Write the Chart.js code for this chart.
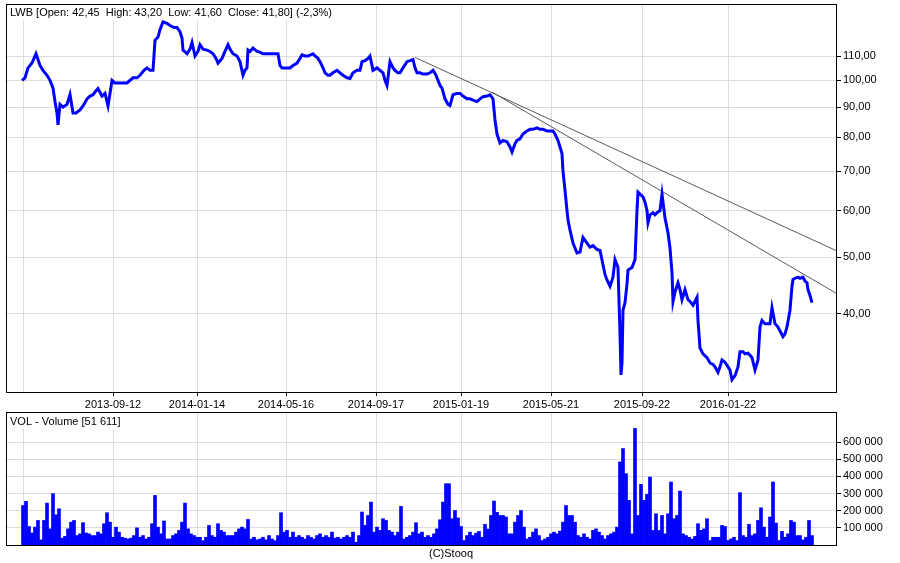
<!DOCTYPE html>
<html>
<head>
<meta charset="utf-8">
<title>LWB</title>
<script src="https://cdn.jsdelivr.net/npm/chart.js@4.4.1/dist/chart.umd.min.js"></script>
<style>
  html, body { margin: 0; padding: 0; background: #fff; }
  #wrap { position: relative; width: 900px; height: 563px; overflow: hidden; }
  #priceChart { position: absolute; left: 0; top: 0; }
  #volChart { position: absolute; left: 0; top: 400px; }
</style>
</head>
<body>
<div id="wrap">
  <canvas id="priceChart" width="900" height="412"></canvas>
  <canvas id="volChart" width="900" height="163"></canvas>
</div>
<script>
// x is a trading-day counter (day 0 = first session shown)
const tickDays = [1, 91, 175, 264, 354, 439, 529, 620, 706];
const tickLabels = ["", "2013-09-12", "2014-01-14", "2014-05-16", "2014-09-17", "2015-01-19", "2015-05-21", "2015-09-22", "2016-01-22"];
const priceTicks = [40, 50, 60, 70, 80, 90, 100, 110];
const volumeTicks = [100000, 200000, 300000, 400000, 500000, 600000];

// closing prices
const priceDays = [0, 3, 6, 10, 14, 18, 21, 25, 28, 31, 33, 35, 36, 38, 41, 45, 48, 51, 54, 58,
  62, 65, 68, 71, 74, 76, 80, 83, 85, 86, 88, 90, 93, 95, 100, 105, 111, 115, 118, 122,
  125, 128, 131, 133, 136, 138, 141, 145, 148, 152, 155, 158, 160, 161, 165, 168, 170, 173, 176, 178,
  181, 185, 188, 191, 194, 196, 200, 203, 206, 208, 211, 215, 218, 221, 223, 225, 226, 228, 231, 235,
  238, 241, 245, 248, 251, 254, 256, 258, 260, 263, 265, 268, 271, 275, 278, 280, 283, 286, 291, 293,
  296, 298, 301, 303, 306, 308, 311, 315, 318, 321, 325, 328, 331, 335, 338, 340, 343, 346, 348, 351,
  355, 358, 361, 363, 365, 368, 371, 373, 376, 378, 381, 385, 388, 391, 393, 395, 398, 401, 405, 408,
  411, 414, 416, 418, 420, 423, 426, 428, 431, 435, 438, 441, 445, 448, 451, 455, 458, 461, 465, 468,
  471, 473, 475, 478, 481, 485, 488, 490, 493, 495, 498, 501, 505, 508, 511, 515, 518, 521, 525, 528,
  531, 533, 536, 538, 540, 541, 543, 545, 546, 548, 551, 555, 558, 561, 565, 568, 571, 575, 578, 581,
  583, 585, 588, 591, 593, 596, 598, 599, 600, 601, 603, 605, 606, 610, 613, 615, 616, 618, 621, 623,
  625, 626, 628, 631, 633, 635, 638, 640, 643, 646, 648, 650, 651, 653, 656, 658, 660, 663, 666, 668,
  671, 675, 676, 678, 681, 685, 688, 691, 693, 696, 698, 700, 703, 706, 708, 710, 713, 716, 718, 721,
  723, 726, 728, 730, 733, 736, 738, 740, 743, 746, 748, 750, 753, 756, 758, 761, 763, 765, 768, 770,
  771, 773, 776, 778, 781, 783, 785, 786, 788, 790];
const priceClose = [100, 101, 105, 107, 111, 106, 104, 102, 100, 97, 92, 88, 84, 91, 90, 91, 94.6, 88, 88, 89,
  91, 93, 94, 94.5, 96, 96.8, 94, 95, 92, 90.5, 95, 100, 99, 99, 99, 99, 101, 101, 102, 104,
  105, 104, 104, 117, 118.5, 122, 125.7, 125, 124, 123, 123, 121, 118, 112.6, 111, 113, 116, 110, 112, 115,
  113, 112.6, 112, 111, 109, 107, 109, 112, 115, 113, 111, 110, 107.6, 102, 104, 105, 112.6, 112, 113.5, 112,
  111.7, 111, 111, 111, 111, 111, 111, 106, 105, 105, 105, 105, 106, 107, 109, 110.5, 110, 110, 111, 110,
  109, 107.6, 105, 103, 102, 102, 103, 104, 103, 102, 101, 100.7, 103, 104, 104, 107.6, 108, 109, 110, 104,
  105, 104, 103, 100, 98, 107.6, 105, 104, 103, 103, 105, 107.6, 108, 108.5, 105, 103, 103, 102.5, 102.5, 103,
  104, 102, 100, 98, 97, 93, 91, 90.6, 94.5, 95, 95, 94, 93, 93, 92.5, 92, 93, 93.8, 94, 94.5,
  93, 85.6, 81, 78.2, 79, 78.6, 77, 75.5, 78, 79, 79.5, 81, 82, 82.5, 82.5, 83, 82.5, 82.5, 82, 82,
  82, 81, 79, 77, 75, 70, 65, 60, 57.8, 55.6, 52.8, 50.8, 51, 54, 52.8, 52, 52.3, 51.5, 51.3, 48.5,
  46.7, 45.7, 44.6, 46.2, 49.5, 48, 37, 31.5, 33, 40.6, 41.8, 45, 47.5, 48, 49.5, 60, 64.5, 64, 63.3, 62,
  60, 57.2, 59, 59.5, 59, 59.5, 60, 64, 58.3, 55, 51.8, 47, 42, 43.6, 45.2, 44, 42.3, 44, 42.3, 42,
  41.4, 42.7, 39, 35, 34.2, 33.7, 33, 32.8, 32.5, 31.8, 32.5, 33.4, 33.1, 32.5, 32.1, 30.9, 31.4, 32.5, 34.5, 34.5,
  34.2, 34.3, 34, 33.7, 32.1, 33.4, 38, 39, 38.5, 38.5, 38.5, 41, 38.5, 38, 37.4, 36.6, 37, 38, 40.6, 44.6,
  45.8, 46, 46.2, 46, 46.2, 45.5, 45.2, 44, 43, 41.8];

// two drawn trend lines: start and end (day, price)
const trendUpper = [[393, 109.4], [814, 51.3]];
const trendLower = [[470, 95.5], [814, 43.4]];

// volume in thousands, one value per 3 sessions starting at day 0
const volumeK = [230, 254, 108, 70, 104, 143, 30, 143, 244, 94, 299, 176, 211, 40, 50, 94, 133, 143, 55, 65,
  130, 70, 65, 55, 55, 75, 65, 124, 188, 133, 45, 104, 75, 45, 40, 35, 40, 55, 100, 45,
  55, 35, 45, 124, 289, 104, 65, 140, 35, 35, 55, 65, 85, 133, 244, 94, 65, 55, 45, 45,
  26, 45, 114, 55, 45, 124, 85, 75, 55, 55, 55, 75, 94, 104, 94, 149, 35, 45, 30, 35,
  45, 30, 55, 35, 25, 55, 188, 75, 85, 45, 75, 45, 55, 45, 35, 55, 45, 35, 55, 65,
  45, 55, 45, 75, 40, 45, 35, 45, 55, 45, 75, 16, 55, 192, 114, 172, 250, 75, 104, 85,
  153, 143, 85, 75, 55, 75, 225, 35, 45, 55, 75, 130, 65, 75, 45, 55, 45, 65, 94, 147,
  250, 357, 357, 153, 201, 158, 108, 26, 55, 75, 55, 69, 79, 45, 120, 93, 172, 256, 190, 172,
  172, 163, 65, 65, 133, 172, 201, 104, 35, 45, 75, 94, 55, 26, 35, 45, 65, 75, 65, 81,
  133, 230, 172, 172, 133, 55, 45, 65, 45, 35, 85, 94, 75, 55, 35, 55, 65, 75, 104, 484,
  562, 416, 260, 65, 679, 172, 353, 260, 295, 396, 85, 182, 85, 172, 65, 182, 367, 153, 172, 314,
  65, 55, 45, 35, 50, 124, 85, 94, 153, 26, 45, 45, 45, 114, 108, 26, 35, 45, 26, 305,
  55, 45, 120, 55, 65, 143, 217, 104, 45, 163, 367, 128, 26, 79, 45, 65, 143, 133, 55, 55,
  30, 45, 143, 55];

const FONT = "11px 'Liberation Sans', Arial, sans-serif";
Chart.defaults.font.family = "'Liberation Sans', Arial, sans-serif";
Chart.defaults.font.size = 11;
Chart.defaults.color = "#000";

const gridColor = "#dcdcdc";

function fmtPrice(v) {
  return Number(v).toFixed(2).replace(".", ",");
}
function fmtVolume(v) {
  return String(v).replace(/\B(?=(\d{3})+(?!\d))/g, " ");
}

// frame round the plot area plus the caption in its top-left corner
const framePlugin = {
  id: "frame",
  beforeDatasetsDraw(chart, args, opts) {
    const { ctx, chartArea: a } = chart;
    if (!opts.text) return;
    ctx.save();
    ctx.font = FONT;
    const w = ctx.measureText(opts.text).width;
    ctx.fillStyle = "#fff";
    ctx.fillRect(a.left + 1, a.top + 1, w + 8, opts.boxHeight);
    ctx.restore();
  },
  afterDraw(chart, args, opts) {
    const { ctx, chartArea: a } = chart;
    ctx.save();
    if (opts.text) {
      ctx.font = FONT;
      ctx.fillStyle = "#000";
      ctx.textBaseline = "middle";
      ctx.fillText(opts.text, a.left + 4, a.top + opts.textY);
    }
    if (opts.footer) {
      ctx.font = FONT;
      ctx.fillStyle = "#000";
      ctx.textAlign = "center";
      ctx.textBaseline = "middle";
      ctx.fillText(opts.footer, 451, a.bottom + 9);
    }
    ctx.strokeStyle = "#000";
    ctx.lineWidth = 1;
    ctx.strokeRect(a.left + 0.5, a.top + 0.5, a.right - a.left, a.bottom - a.top);
    ctx.restore();
  },
};

function dayAxis(showLabels) {
  return {
    type: "linear",
    min: -16,
    max: 814,
    offset: false,
    afterBuildTicks: (scale) => {
      scale.ticks = tickDays.map((d) => ({ value: d }));
    },
    afterFit: (scale) => {
      scale.height = showLabels ? 20 : 0;
      scale.paddingLeft = 0;
      scale.paddingRight = 0;
    },
    ticks: {
      display: showLabels,
      autoSkip: false,
      maxRotation: 0,
      padding: 2,
      callback: (v, i) => tickLabels[i],
    },
    grid: {
      offset: false,
      color: gridColor,
      tickColor: (c) => (c.index === 0 ? "rgba(0,0,0,0)" : "#000"),
      tickLength: 4,
      drawTicks: showLabels,
    },
    border: { display: false },
  };
}

function sideAxis(extra) {
  return Object.assign({
    position: "right",
    afterFit: (scale) => {
      scale.width = 64;
      scale.paddingTop = 0;
      scale.paddingBottom = 0;
    },
    grid: { color: gridColor, tickColor: "#000", tickLength: 5 },
    border: { display: false },
  }, extra);
}

new Chart(document.getElementById("priceChart"), {
  type: "line",
  data: {
    datasets: [
      {
        data: priceDays.map((d, i) => ({ x: d, y: priceClose[i] })),
        borderColor: "#0000ff",
        borderWidth: 3,
        pointRadius: 0,
        tension: 0,
      },
      {
        data: trendUpper.map((p) => ({ x: p[0], y: p[1] })),
        borderColor: "#5a5a5a",
        borderWidth: 1,
        pointRadius: 0,
      },
      {
        data: trendLower.map((p) => ({ x: p[0], y: p[1] })),
        borderColor: "#5a5a5a",
        borderWidth: 1,
        pointRadius: 0,
      },
    ],
  },
  options: {
    responsive: false,
    animation: false,
    layout: { padding: { left: 6, top: 4, right: 0, bottom: 0 } },
    scales: {
      x: dayAxis(true),
      y: sideAxis({
        type: "logarithmic",
        min: 29.45,
        max: 134.9,
        afterBuildTicks: (scale) => {
          scale.ticks = priceTicks.map((v) => ({ value: v }));
        },
        ticks: { padding: 2, callback: (v) => fmtPrice(v) },
      }),
    },
    plugins: {
      legend: { display: false },
      tooltip: { enabled: false },
      frame: {
        text: "LWB [Open: 42,45  High: 43,20  Low: 41,60  Close: 41,80] (-2,3%)",
        textY: 9,
        boxHeight: 15,
      },
    },
  },
  plugins: [framePlugin],
});

new Chart(document.getElementById("volChart"), {
  type: "bar",
  data: {
    datasets: [
      {
        data: volumeK.map((v, i) => ({ x: i * 3 + 1, y: v * 1000 })),
        backgroundColor: "#0000ff",
        borderWidth: 0,
        barPercentage: 1,
        categoryPercentage: 1,
      },
    ],
  },
  options: {
    responsive: false,
    animation: false,
    layout: { padding: { left: 6, top: 12, right: 0, bottom: 18 } },
    scales: {
      x: dayAxis(false),
      y: sideAxis({
        min: 0,
        max: 775000,
        afterBuildTicks: (scale) => {
          scale.ticks = volumeTicks.map((v) => ({ value: v }));
        },
        ticks: { padding: 2, callback: (v) => fmtVolume(v) },
      }),
    },
    plugins: {
      legend: { display: false },
      tooltip: { enabled: false },
      frame: {
        text: "VOL - Volume [51 611]",
        textY: 10,
        boxHeight: 16,
        footer: "(C)Stooq",
      },
    },
  },
  plugins: [framePlugin],
});
</script>
</body>
</html>
